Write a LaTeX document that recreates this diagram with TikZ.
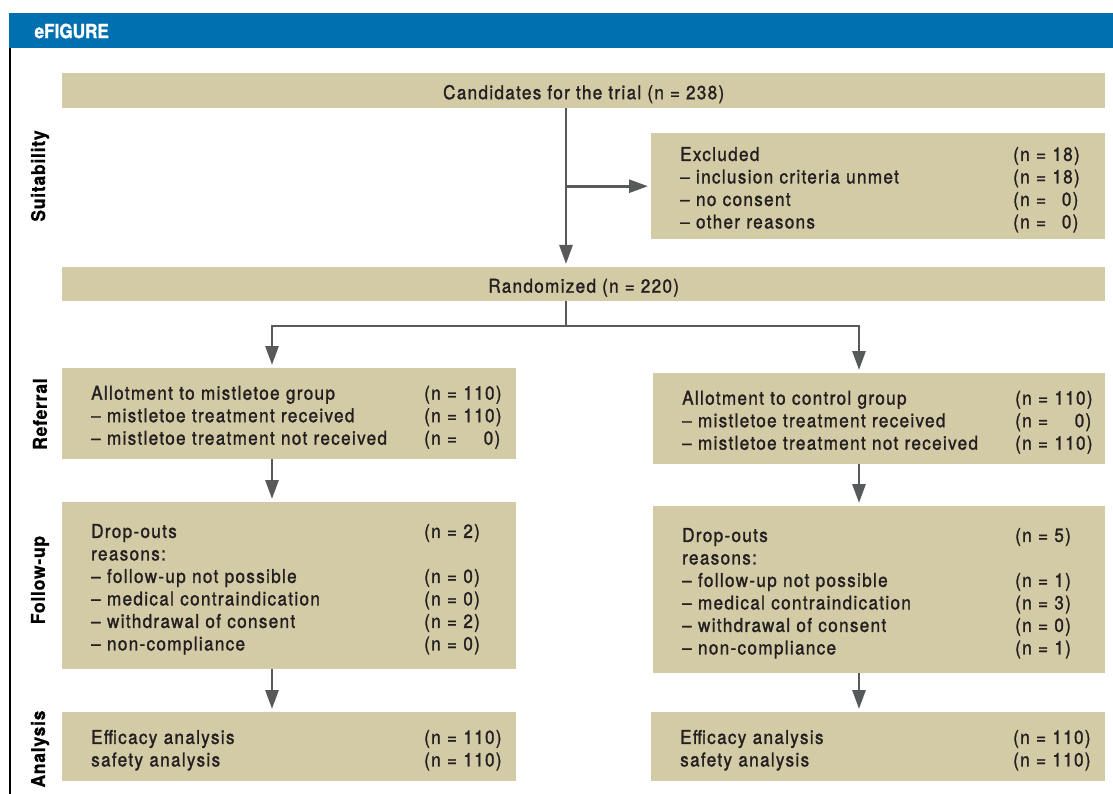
\documentclass[tikz,border=0pt]{standalone}
\usepackage{fontspec}
\setmainfont{TeX Gyre Heros}[FakeStretch=0.9,LetterSpace=7,FakeBold=1.3]
\newfontfamily\headfont{TeX Gyre Heros}[FakeStretch=0.88,FakeBold=1]
\newfontfamily\labelfont{TeX Gyre Heros}[FakeStretch=0.92,LetterSpace=4,FakeBold=0.8]
\usetikzlibrary{arrows.meta}
\definecolor{headblue}{RGB}{0,112,176}
\definecolor{boxtan}{RGB}{211,202,166}
\definecolor{arrowgray}{RGB}{88,89,91}
\definecolor{inkdark}{RGB}{35,31,32}
\newcommand{\boxfont}{\fontsize{19}{22.5}\selectfont}
\newcommand{\entry}[2]{\makebox[333pt][l]{#1}\rlap{#2}}
\tikzset{
    flow-box/.style = {fill=boxtan, rectangle, anchor=north west, inner xsep=29pt, inner ysep=0pt, text=inkdark, font=\boxfont, align=left, execute at begin node=\rule{0pt}{21pt}},
    wide-box/.style = {fill=boxtan, rectangle, anchor=north west, inner sep=0pt, text=inkdark, font=\boxfont, minimum width=1043pt, execute at begin node=\rule{0pt}{21pt}},
    side-label/.style = {rotate=90, font=\labelfont\fontsize{19}{20}\selectfont\bfseries, text=black},
    flow-line/.style = {draw=arrowgray, line width=2.8pt},
    flow-arrow/.style = {flow-line, -{Triangle[length=19pt,width=13pt]}, shorten >=3pt},
}

\begin{document}
\begin{tikzpicture}[x=1pt,y=-1pt]
\useasboundingbox (0,0) rectangle (1113,794);
% frame
\fill[headblue] (9,13) rectangle (1113,48);
\node[anchor=west, text=white, font=\headfont\fontsize{19.5}{20}\selectfont\bfseries] (title) at (31,31) {eFIGURE};
\draw[line width=2pt, black] (10,48) -- (10,794);

% stage labels
\node[side-label] (suit) at (40,176) {Suitability};
\node[side-label] (refer) at (40,414) {Referral};
\node[side-label] (follow) at (40,580) {Follow-up};
\node[side-label] (anal) at (40,749) {Analysis};

% boxes
\node[wide-box, minimum height=35pt] (cand) at (62,73) {Candidates for the trial (n = 238)};
\node[flow-box, text width=396pt, minimum height=106pt] (excl) at (651,133) {%
    \entry{Excluded}{(n = 18)}\\
    \entry{-- inclusion criteria unmet}{(n = 18)}\\
    \entry{-- no consent}{(n = \hphantom{1}0)}\\
    \entry{-- other reasons}{(n = \hphantom{1}0)}};
\node[wide-box, minimum height=34pt] (rand) at (62,267) {Randomized (n = 220)};

\node[flow-box, text width=396pt, minimum height=91pt] (mref) at (62,368) {%
    \entry{Allotment to mistletoe group}{(n = 110)}\\
    \entry{-- mistletoe treatment received}{(n = 110)}\\
    \entry{-- mistletoe treatment not received}{(n = \hphantom{11}0)}};
\node[flow-box, text width=394pt, minimum height=91pt] (cref) at (653,373) {%
    \entry{Allotment to control group}{(n = 110)}\\
    \entry{-- mistletoe treatment received}{(n = \hphantom{11}0)}\\
    \entry{-- mistletoe treatment not received}{(n = 110)}};

\node[flow-box, text width=396pt, minimum height=167pt] (mfol) at (62,502) {%
    \entry{Drop-outs}{(n = 2)}\\
    reasons:\\
    \entry{-- follow-up not possible}{(n = 0)}\\
    \entry{-- medical contraindication}{(n = 0)}\\
    \entry{-- withdrawal of consent}{(n = 2)}\\
    \entry{-- non-compliance}{(n = 0)}};
\node[flow-box, text width=394pt, minimum height=167pt] (cfol) at (653,506) {%
    \entry{Drop-outs}{(n = 5)}\\
    reasons:\\
    \entry{-- follow-up not possible}{(n = 1)}\\
    \entry{-- medical contraindication}{(n = 3)}\\
    \entry{-- withdrawal of consent}{(n = 0)}\\
    \entry{-- non-compliance}{(n = 1)}};

\node[flow-box, text width=396pt, minimum height=69pt] (mana) at (62,712) {%
    \entry{Efficacy analysis}{(n = 110)}\\
    \entry{safety analysis}{(n = 110)}};
\node[flow-box, text width=396pt, minimum height=69pt] (cana) at (651,712) {%
    \entry{Efficacy analysis}{(n = 110)}\\
    \entry{safety analysis}{(n = 110)}};

% connectors
\coordinate (trunk) at (566,0);
\coordinate (mcol) at (272,0);
\coordinate (ccol) at (859,0);
\coordinate (split) at (566,326);
\draw[flow-arrow] (cand.south -| trunk) -- (rand.north -| trunk);
\draw[flow-arrow] (trunk |- excl.west) -- (excl.west);
\draw[flow-line] (rand.south -| split) -- (split);
\draw[flow-arrow] (split) -| (mref.north -| mcol);
\draw[flow-arrow] (split) -| (cref.north -| ccol);
\draw[flow-arrow] (mref.south -| mcol) -- (mfol.north -| mcol);
\draw[flow-arrow] (cref.south -| ccol) -- (cfol.north -| ccol);
\draw[flow-arrow] (mfol.south -| mcol) -- (mana.north -| mcol);
\draw[flow-arrow] (cfol.south -| ccol) -- (cana.north -| ccol);
\end{tikzpicture}
\end{document}
